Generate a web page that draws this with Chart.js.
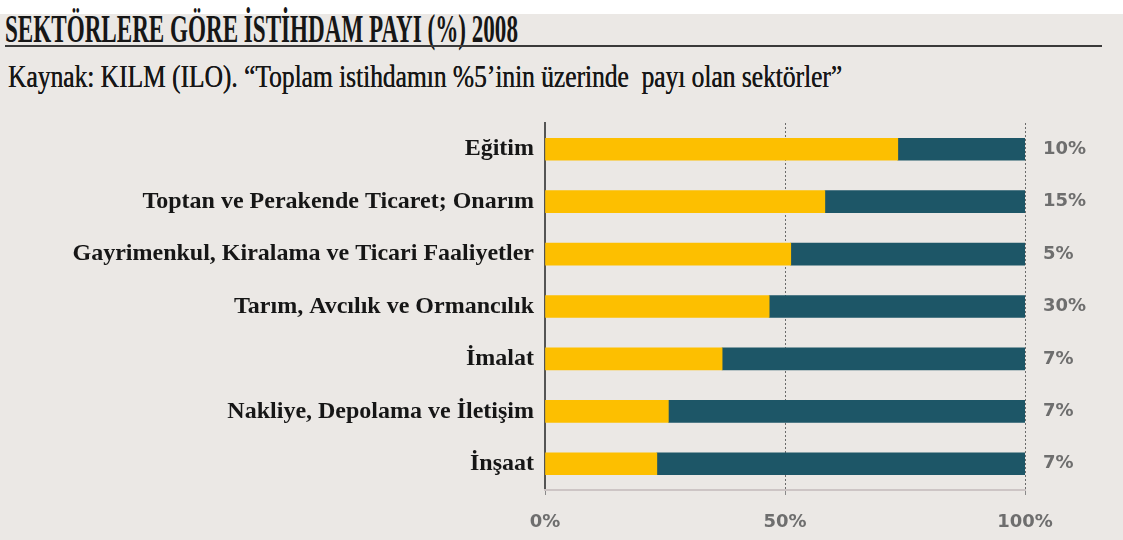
<!DOCTYPE html>
<html>
<head>
<meta charset="utf-8">
<script src="https://cdn.jsdelivr.net/npm/chart.js@4"></script>
<style>
  body { margin: 0; background: #ebe8e5; }
  #wrap { position: relative; width: 1123px; height: 540px; background: linear-gradient(#ffffff 0 14px, #ebe8e5 14px); overflow: hidden; }
  #title { position: absolute; left: 5px; top: 9px; font: bold 40px/40px "Liberation Serif"; color: #161616; white-space: pre; transform-origin: 0 0; }
  #rule { position: absolute; left: 5px; top: 45px; width: 1097px; height: 2px; background: #3a3a3a; }
  #sub { position: absolute; left: 8px; top: 60px; font: 32px/32px "Liberation Serif"; color: #161616; white-space: pre; transform-origin: 0 0; text-shadow: 0.4px 0 0 #161616; }
  canvas { position: absolute; left: 0; top: 0; }
</style>
</head>
<body>
<div id="wrap">
  <div id="title">SEKTÖRLERE GÖRE İSTİHDAM PAYI (%) 2008</div>
  <div id="rule"></div>
  <div id="sub">Kaynak: KILM (ILO). “Toplam istihdamın %5’inin üzerinde  payı olan sektörler”</div>
  <canvas id="chart1" width="1123" height="540"></canvas>
</div>
<script>
// data
var categories = [
    'Eğitim',
    'Toptan ve Perakende Ticaret; Onarım',
    'Gayrimenkul, Kiralama ve Ticari Faaliyetler',
    'Tarım, Avcılık ve Ormancılık',
    'İmalat',
    'Nakliye, Depolama ve İletişim',
    'İnşaat'
];
var yellowShare = [73.5, 58.3, 51.2, 46.7, 36.9, 25.7, 23.3];
var tealShare = [26.5, 41.7, 48.8, 53.3, 63.1, 74.3, 76.7];
var totalShare = ['10%', '15%', '5%', '30%', '7%', '7%', '7%'];
var xTicks = [0, 50, 100];

// squeeze the heading lines to the width they have in the picture
function fitWidth(id, w) {
    var el = document.getElementById(id);
    el.style.transform = 'scaleX(' + (w / el.offsetWidth) + ')';
}
fitWidth('title', 513);
fitWidth('sub', 834);

// share of total employment, written right of each bar
var shareLabels = {
    id: 'shareLabels',
    afterDatasetsDraw: function(chart) {
        var ctx = chart.ctx;
        var meta = chart.getDatasetMeta(1);
        ctx.save();
        ctx.font = 'bold 18px "DejaVu Sans"';
        ctx.fillStyle = '#6e6e6e';
        ctx.textAlign = 'left';
        ctx.textBaseline = 'middle';
        meta.data.forEach(function(bar, i) {
            ctx.fillText(totalShare[i], chart.chartArea.right + 18, bar.y);
        });
        ctx.restore();
    }
};

var ctx = document.getElementById('chart1').getContext('2d');
var myChart = new Chart(ctx, {
    type: 'bar',
    data: {
        labels: categories,
        datasets: [{
            data: yellowShare,
            backgroundColor: '#fdbf00',
            barThickness: 22
        },
        {
            data: tealShare,
            backgroundColor: '#1d5667',
            barThickness: 22
        }]
    },
    options: {
        indexAxis: 'y',
        responsive: false,
        animation: false,
        devicePixelRatio: 1,
        layout: {
            padding: { top: 123, right: 98, bottom: 0, left: 0 }
        },
        plugins: {
            legend: { display: false },
            tooltip: { enabled: false }
        },
        scales: {
            y: {
                stacked: true,
                afterFit: function(s) { s.width = 545; },
                ticks: {
                    font: { family: '"Liberation Serif"', size: 24, weight: 'bold' },
                    color: '#161616',
                    padding: 11
                },
                grid: { display: false, drawTicks: false },
                border: { color: '#555555', width: 2 }
            },
            x: {
                stacked: true,
                min: 0,
                max: 100,
                afterBuildTicks: function(s) {
                    s.ticks = xTicks.map(function(v) { return { value: v }; });
                },
                afterFit: function(s) { s.height = 50; },
                ticks: {
                    callback: function(v) { return v + '%'; },
                    font: { family: '"DejaVu Sans"', size: 18, weight: 'bold' },
                    color: '#6e6e6e',
                    padding: 17
                },
                grid: {
                    color: function(c) { return c.tick && c.tick.value === 0 ? 'rgba(0,0,0,0)' : '#6a6a6a'; },
                    tickLength: 5,
                    tickColor: '#8a8a8a',
                    tickBorderDash: []
                },
                border: { color: '#cdc5c5', width: 2, dash: [2, 2] }
            }
        }
    },
    plugins: [shareLabels]
});
</script>
</body>
</html>
